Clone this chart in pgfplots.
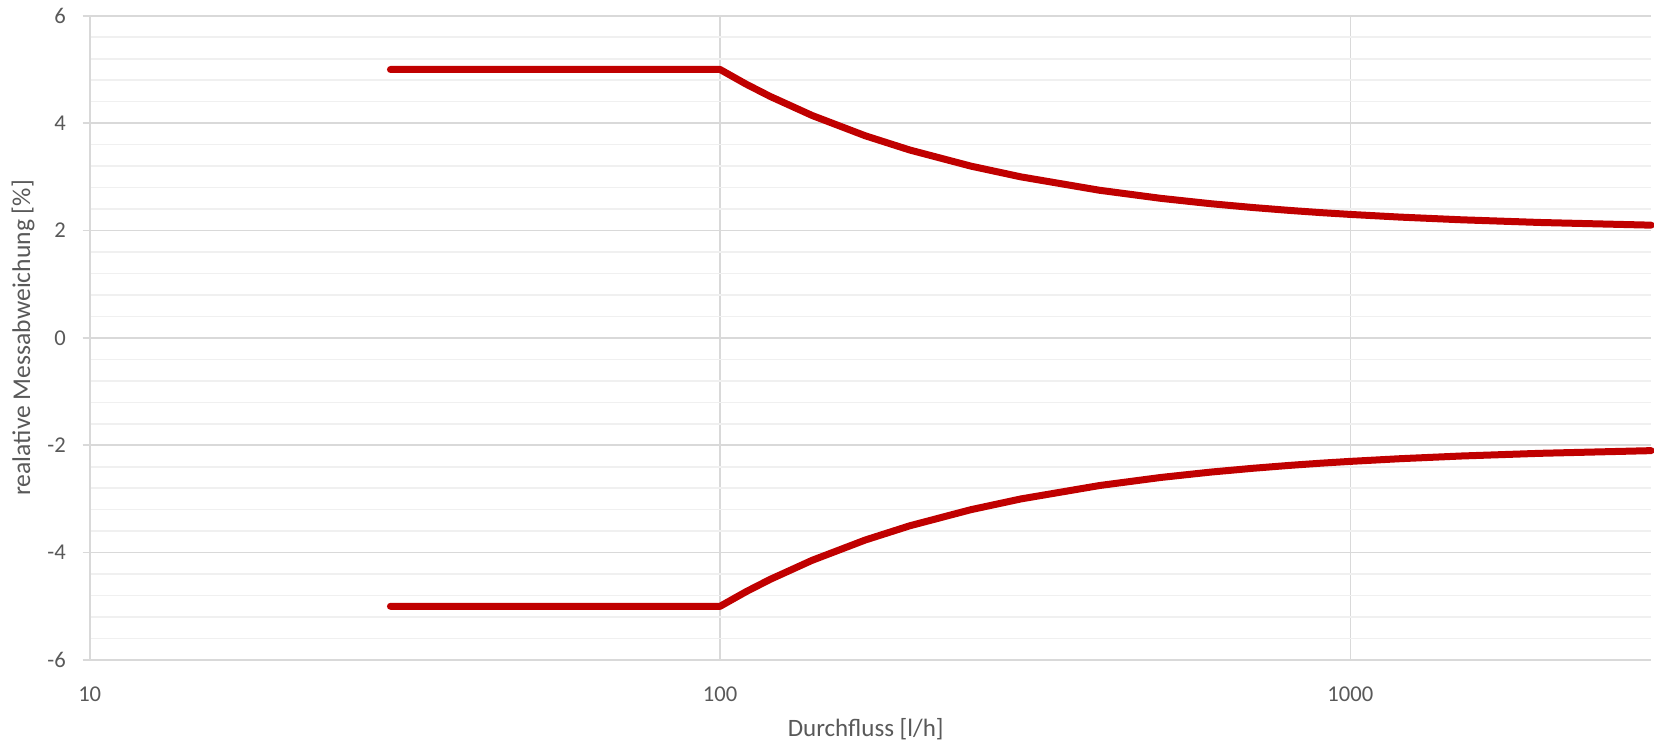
\documentclass[border=0pt]{standalone}
\usepackage{fontspec}
\setmainfont{Carlito}
\usepackage{pgfplots}
\pgfplotsset{compat=1.18}
\definecolor{linered}{HTML}{C00000}
\definecolor{txtgray}{HTML}{595959}
\definecolor{majgray}{HTML}{D9D9D9}
\definecolor{mingray}{HTML}{F0F0F0}
\definecolor{zerogray}{HTML}{BFBFBF}
\begin{document}
\begin{tikzpicture}
\begin{axis}[
  scale only axis, width=780.7pt, height=322.1pt,
  xmode=log, log basis x=10,
  xmin=10, xmax=3000, ymin=-6, ymax=6,
  axis lines*=left,
  x axis line style={draw=none},
  y axis line style={draw=majgray, line width=1pt},
  xtick={10,100,1000}, xticklabels={10,100,1000},
  ytick={-6,-4,-2,0,2,4,6},
  minor y tick num=4,
  grid=both,
  major grid style={draw=majgray, line width=0.8pt},
  minor grid style={draw=mingray, line width=0.8pt},
  tick align=outside,
  x tick style={draw=none},
  minor tick length=0pt,
  major tick length=3.5pt,
  y tick style={draw=majgray, line width=0.8pt},
  /pgf/number format/assume math mode=true,
  ticklabel style={font=\fontsize{11.3}{13}\selectfont, text=txtgray},
  yticklabel style={anchor=east, inner sep=0pt, xshift=-8.3pt},
  xticklabel style={anchor=north, inner sep=0pt, yshift=-9.8pt},
  xlabel={Durchfluss [l/h]},
  ylabel={realative Messabweichung [\%]},
  xlabel style={font=\fontsize{12.5}{14}\selectfont, text=txtgray, at={(axis description cs:0.497,0)}, anchor=center, yshift=-34.5pt},
  ylabel style={font=\fontsize{12.8}{14}\selectfont, text=txtgray, at={(axis description cs:0,0.5)}, anchor=center, yshift=33.35pt},
  extra y ticks={0},
  extra y tick labels={},
  extra y tick style={grid style={draw=zerogray, line width=1.1pt}},
  clip=false,
]
\addplot[linered, line width=3.5pt, line cap=round, line join=round] coordinates {
(30,5) (100,5) (110,4.727) (120,4.5) (140,4.143) (170,3.765) (200,3.5) (250,3.2)
(300,3) (400,2.75) (500,2.6) (600,2.5) (700,2.429) (800,2.375) (900,2.333)
(1000,2.3) (1200,2.25) (1500,2.2) (2000,2.15) (3000,2.1)
};
\addplot[linered, line width=3.5pt, line cap=round, line join=round] coordinates {
(30,-5) (100,-5) (110,-4.727) (120,-4.5) (140,-4.143) (170,-3.765) (200,-3.5) (250,-3.2)
(300,-3) (400,-2.75) (500,-2.6) (600,-2.5) (700,-2.429) (800,-2.375) (900,-2.333)
(1000,-2.3) (1200,-2.25) (1500,-2.2) (2000,-2.15) (3000,-2.1)
};
\end{axis}
\pgfresetboundingbox
\path[use as bounding box] (-44.85pt,-42.5pt) rectangle (782.15pt,330pt);
\end{tikzpicture}
\end{document}
